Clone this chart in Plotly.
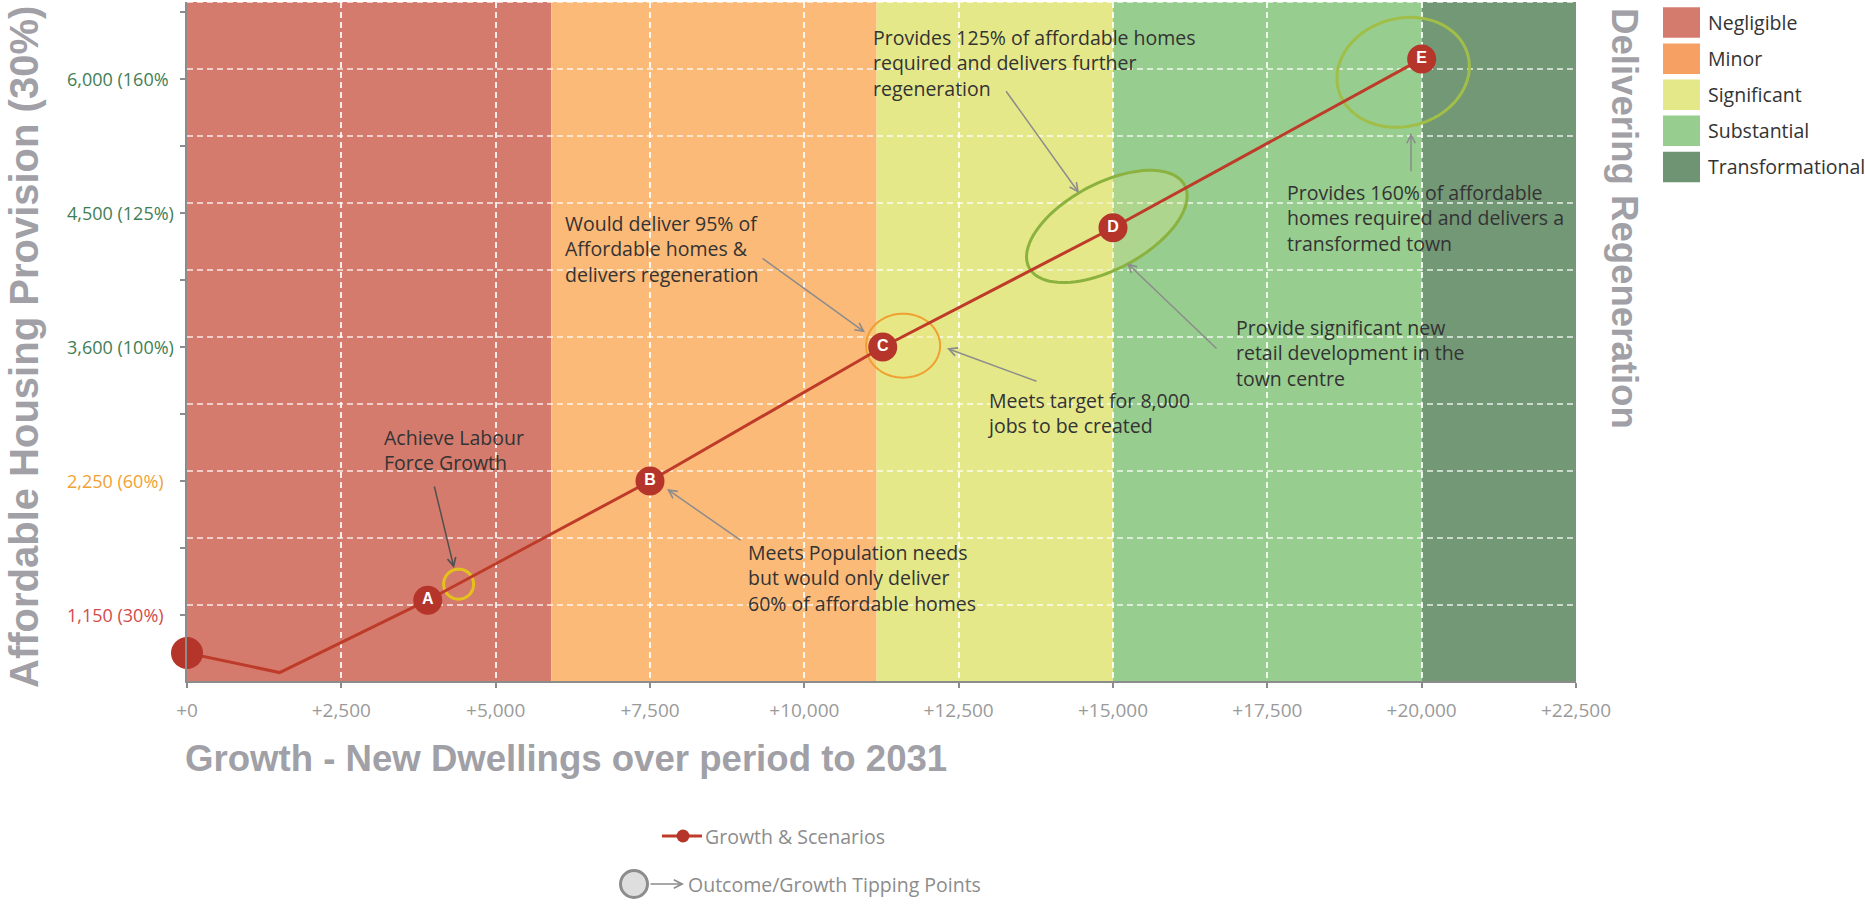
import numpy as np
import plotly.graph_objects as go

# ---------------- data ----------------
# Growth path: new dwellings (x) against affordable-housing provision step (y).
# The y axis is an ordinal scale: step 1 = 1,150 homes ... step 5 = 6,000 homes.
growth_dwellings = [0, 1500, 3900, 7500, 11270, 15000, 20000]
growth_level = [0.716, 0.57, 1.11, 2.0, 3.0, 3.89, 5.15]

scenario_labels = ["A", "B", "C", "D", "E"]
scenario_dwellings = [3900, 7500, 11270, 15000, 20000]
scenario_level = [1.11, 2.0, 3.0, 3.89, 5.15]

provision_levels = [1, 2, 3, 4, 5]
provision_labels = ["1,150 (30%)", "2,250 (60%)", "3,600 (100%)", "4,500 (125%)", "6,000 (160%"]
provision_colors = ["#D24B4B", "#F0A232", "#3F7E55", "#3F7E55", "#3F7E55"]

x_ticks = [0, 2500, 5000, 7500, 10000, 12500, 15000, 17500, 20000, 22500]
x_tick_text = ["+0", "+2,500", "+5,000", "+7,500", "+10,000", "+12,500",
               "+15,000", "+17,500", "+20,000", "+22,500"]

# regeneration bands along the growth axis
band_names = ["Negligible", "Minor", "Significant", "Substantial", "Transformational"]
band_starts = [0, 5900, 11170, 15000, 20000]
band_ends = [5900, 11170, 15000, 20000, 22500]
band_colors = ["#D57B6D", "#FBBA78", "#E5E888", "#97CD8E", "#739876"]
swatch_colors = ["#D57B6D", "#F7A064", "#E5E888", "#97CD8E", "#6F9474"]

# outcome / growth tipping points (centre, semi-axes in px, tilt in degrees)
tip_dwellings = [4400, 11600, 14900, 19700]
tip_level = [1.23, 3.01, 3.9, 5.05]
tip_rx = [15, 37, 88, 67]
tip_ry = [15, 32, 43, 54]
tip_tilt = [0, 0, 28, 15]
tip_line = ["#E3C21C", "#F0A030", "#8BB23F", "#A0BE48"]
tip_fill = ["rgba(0,0,0,0)", "rgba(238,230,130,0.30)", "rgba(225,232,140,0.30)", "rgba(0,0,0,0)"]
tip_width = [3, 2, 3, 3]

# call-out notes: text anchor and arrow (head, tail)
note_text = [
    "Achieve Labour<br>Force Growth",
    "Meets Population needs<br>but would only deliver<br>60% of affordable homes",
    "Would deliver 95% of<br>Affordable homes &amp;<br>delivers regeneration",
    "Meets target for 8,000<br>jobs to be created",
    "Provides 125% of affordable homes<br>required and delivers further<br>regeneration",
    "Provide significant new<br>retail development in the<br>town centre",
    "Provides 160% of affordable<br>homes required and delivers a<br>transformed town",
]
note_x = [3160, 9055, 6091, 12927, 11080, 16961, 17786]
note_y = [2.23, 1.276, 3.73, 2.507, 5.12, 2.955, 3.963]
arrow_head_x = [4325, 7775, 10983, 12311, 14449, 15227, 19828]
arrow_head_y = [1.351, 1.94, 3.11, 2.99, 4.15, 3.627, 4.597]
arrow_tail_x = [4001, 8990, 9298, 13785, 13251, 16701, 19828]
arrow_tail_y = [1.97, 1.55, 3.67, 2.74, 4.92, 2.978, 4.30]
arrow_colors = ["#505050", "#8C8C8C", "#8C8C8C", "#8C8C8C", "#8C8C8C", "#8C8C8C", "#8C8C8C"]

# ---------------- layout geometry ----------------
W, H = 1865, 907
M_L, M_R, M_T, M_B = 187, 289, 2, 226
PLOT_W = W - M_L - M_R
PLOT_H = H - M_T - M_B
X_RANGE = [0, 22500]
Y_RANGE = [0.507, 5.575]
PX_PER_X = PLOT_W / (X_RANGE[1] - X_RANGE[0])
PX_PER_Y = PLOT_H / (Y_RANGE[1] - Y_RANGE[0])


def px_x(p):
    """page pixel column -> paper x"""
    return (p - M_L) / PLOT_W


def px_y(p):
    """page pixel row -> paper y"""
    return (H - M_B - p) / PLOT_H


TEXT_FONT = "Open Sans, Noto Sans, sans-serif"
TITLE_FONT = "Liberation Sans, Arial, sans-serif"
TITLE_GREY = "#A0A0A6"
AXIS_GREY = "#8C8C8C"
LINE_RED = "#BE3B29"
MARK_RED = "#B5352A"

fig = go.Figure()

# regeneration bands
for x0, x1, c in zip(band_starts, band_ends, band_colors):
    fig.add_shape(type="rect", xref="x", yref="paper", x0=x0, x1=x1, y0=0, y1=1,
                  fillcolor=c, line_width=0, layer="below")

# horizontal dashed guides (drawn slightly above each half step)
for v in np.arange(1.0, 5.51, 0.5):
    fig.add_shape(type="line", xref="paper", yref="y", x0=0, x1=1,
                  y0=v + 0.075, y1=v + 0.075,
                  line=dict(color="rgba(255,255,255,0.85)", width=1.5, dash="6px,4px"),
                  layer="between")

# tipping point ellipses
t = np.linspace(0, 2 * np.pi, 97)
for cx, cy, a, b, ang, lc, fc, lw in zip(tip_dwellings, tip_level, tip_rx, tip_ry,
                                          tip_tilt, tip_line, tip_fill, tip_width):
    th = np.radians(ang)
    dx = a * np.cos(th) * np.cos(t) - b * np.sin(th) * np.sin(t)
    dy = a * np.sin(th) * np.cos(t) + b * np.cos(th) * np.sin(t)
    xs = cx + dx / PX_PER_X
    ys = cy + dy / PX_PER_Y
    path = "M " + " L ".join(f"{x:.2f},{y:.4f}" for x, y in zip(xs, ys)) + " Z"
    fig.add_shape(type="path", xref="x", yref="y", path=path,
                  line=dict(color=lc, width=lw), fillcolor=fc, layer="between")

# growth path
fig.add_trace(go.Scatter(
    x=growth_dwellings, y=growth_level, mode="lines",
    line=dict(color=LINE_RED, width=3), cliponaxis=False,
    hoverinfo="skip", showlegend=False))

# starting point
fig.add_trace(go.Scatter(
    x=growth_dwellings[:1], y=growth_level[:1], mode="markers",
    marker=dict(color=MARK_RED, size=32), cliponaxis=False,
    hoverinfo="skip", showlegend=False))

# lettered scenarios
fig.add_trace(go.Scatter(
    x=scenario_dwellings, y=scenario_level, mode="markers+text",
    text=[f"<b>{s}</b>" for s in scenario_labels], textposition="middle center",
    textfont=dict(family="Liberation Sans, Arial, sans-serif", size=16, color="white"),
    marker=dict(color=MARK_RED, size=29), cliponaxis=False,
    hoverinfo="skip", showlegend=False))

annotations = []

# y tick labels, coloured by outcome
for lv, lab, col in zip(provision_levels, provision_labels, provision_colors):
    annotations.append(dict(
        xref="paper", yref="y", x=px_x(65), y=lv, text=lab, showarrow=False,
        xanchor="left", yanchor="middle",
        font=dict(family=TEXT_FONT, size=18, color=col)))

# notes
for txt, x, y in zip(note_text, note_x, note_y):
    annotations.append(dict(
        xref="x", yref="y", x=x, y=y, text=txt, showarrow=False,
        xanchor="left", yanchor="middle", align="left",
        font=dict(family=TEXT_FONT, size=19.5, color="#333333")))

# note arrows
for hx, hy, tx, ty, col in zip(arrow_head_x, arrow_head_y, arrow_tail_x, arrow_tail_y, arrow_colors):
    annotations.append(dict(
        xref="x", yref="y", x=hx, y=hy, axref="x", ayref="y", ax=tx, ay=ty,
        text="", showarrow=True, arrowhead=5, arrowsize=1.1, arrowwidth=1.5,
        arrowcolor=col, standoff=0))

# axis titles
annotations.append(dict(
    xref="paper", yref="paper", x=px_x(566), y=px_y(758),
    text="<b>Growth - New Dwellings over period to 2031</b>", showarrow=False,
    xanchor="center", yanchor="middle",
    font=dict(family=TITLE_FONT, size=36.6, color=TITLE_GREY)))
annotations.append(dict(
    xref="paper", yref="paper", x=px_x(24), y=px_y(347),
    text="<b>Affordable Housing Provision (30%)</b>", showarrow=False, textangle=-90,
    xanchor="center", yanchor="middle",
    font=dict(family=TITLE_FONT, size=40, color=TITLE_GREY)))
annotations.append(dict(
    xref="paper", yref="paper", x=px_x(1625), y=px_y(218),
    text="<b>Delivering Regeneration</b>", showarrow=False, textangle=90,
    xanchor="center", yanchor="middle",
    font=dict(family=TITLE_FONT, size=36.6, color=TITLE_GREY)))

# band key on the right
for i, (name, sc) in enumerate(zip(band_names, swatch_colors)):
    top = 7.3 + 36.1 * i
    fig.add_shape(type="rect", xref="paper", yref="paper",
                  x0=px_x(1663), x1=px_x(1700), y0=px_y(top + 30.5), y1=px_y(top),
                  fillcolor=sc, line_width=0)
    annotations.append(dict(
        xref="paper", yref="paper", x=px_x(1706), y=px_y(top + 15), text=name,
        showarrow=False, xanchor="left", yanchor="middle",
        font=dict(family=TEXT_FONT, size=19.5, color="#333333")))

# key below the chart
fig.add_shape(type="line", xref="paper", yref="paper",
              x0=px_x(662), x1=px_x(702), y0=px_y(836), y1=px_y(836),
              line=dict(color=LINE_RED, width=3))
fig.add_shape(type="circle", xref="paper", yref="paper",
              x0=px_x(676.5), x1=px_x(689.5), y0=px_y(842.5), y1=px_y(829.5),
              fillcolor=MARK_RED, line_width=0)
annotations.append(dict(
    xref="paper", yref="paper", x=px_x(703), y=px_y(836), text="Growth &amp; Scenarios",
    showarrow=False, xanchor="left", yanchor="middle",
    font=dict(family=TEXT_FONT, size=19.5, color="#8C8C8C")))
fig.add_shape(type="circle", xref="paper", yref="paper",
              x0=px_x(620.5), x1=px_x(647.5), y0=px_y(897.5), y1=px_y(870.5),
              fillcolor="#DEDEDE", line=dict(color="#8C8C8C", width=3))
annotations.append(dict(
    xref="paper", yref="paper", x=px_x(684), y=px_y(884), axref="pixel", ayref="pixel",
    ax=-35, ay=0, text="", showarrow=True, arrowhead=5, arrowsize=1.1,
    arrowwidth=1.5, arrowcolor="#8C8C8C", standoff=0))
annotations.append(dict(
    xref="paper", yref="paper", x=px_x(686), y=px_y(884), text="Outcome/Growth Tipping Points",
    showarrow=False, xanchor="left", yanchor="middle",
    font=dict(family=TEXT_FONT, size=19.5, color="#8C8C8C")))

fig.update_layout(
    width=W, height=H, autosize=False,
    margin=dict(l=M_L, r=M_R, t=M_T, b=M_B, pad=0),
    paper_bgcolor="white", plot_bgcolor="white",
    showlegend=False,
    annotations=annotations,
    xaxis=dict(
        range=X_RANGE, tickvals=x_ticks, ticktext=x_tick_text,
        showgrid=True, gridcolor="rgba(255,255,255,0.85)", gridwidth=1.5, griddash="6px,4px",
        zeroline=False, showline=True, linecolor=AXIS_GREY, linewidth=2,
        ticks="outside", ticklen=5, tickcolor=AXIS_GREY, tickwidth=1.5,
        ticklabelstandoff=6,
        tickfont=dict(family=TEXT_FONT, size=19, color="#9A9A9A"),
        fixedrange=True),
    yaxis=dict(
        range=Y_RANGE, tickvals=list(np.arange(0.5, 5.51, 0.5)),
        showticklabels=False, showgrid=False, zeroline=False,
        showline=True, linecolor=AXIS_GREY, linewidth=2,
        ticks="outside", ticklen=5, tickcolor=AXIS_GREY, tickwidth=1.5,
        fixedrange=True),
)

fig.write_html("out.html")
